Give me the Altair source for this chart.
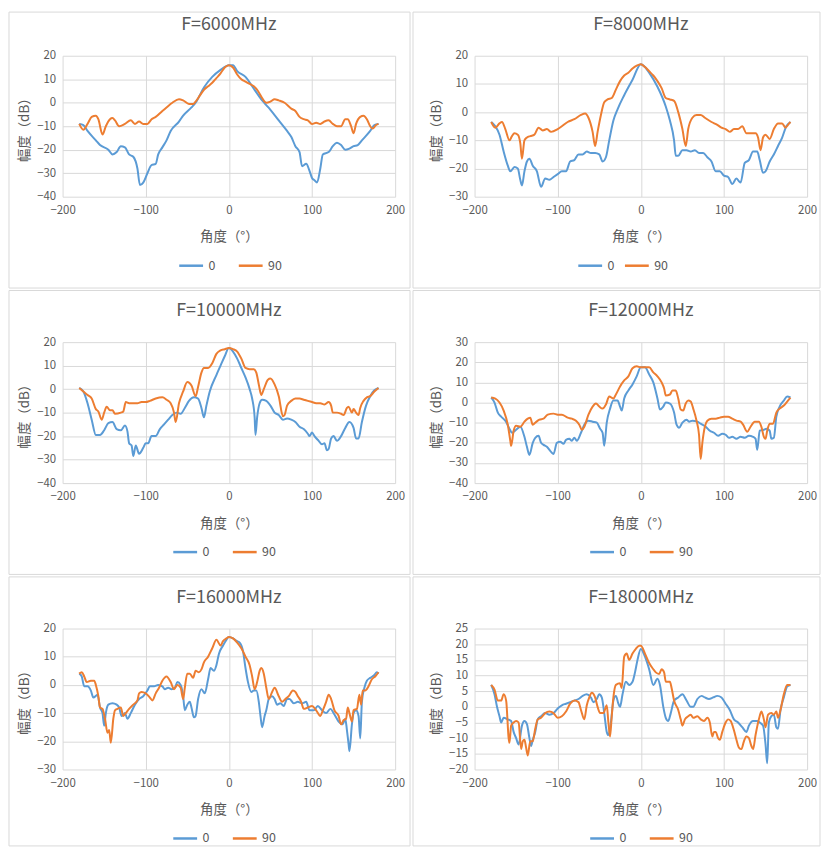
import altair as alt
import pandas as pd

FONT = "Noto Sans CJK SC"
BLUE = "#5B9BD5"
ORANGE = "#ED7D31"
GRID = "#D9D9D9"
TEXT = "#595959"

SERIES = ["0", "90"]
X_TICKS = [-200, -100, 0, 100, 200]
X_TITLE = "角度（°）"
Y_TITLE = "幅度（dB）"

TITLES = ["F=6000MHz", "F=8000MHz", "F=10000MHz", "F=12000MHz", "F=16000MHz", "F=18000MHz"]
Y_MIN = [-40, -30, -40, -40, -30, -20]
Y_MAX = [20, 20, 20, 30, 20, 25]
Y_STEP = [10, 10, 10, 10, 10, 5]

# ---------------- F=6000MHz ----------------
a6000_0 = [-180,-175,-170,-160,-155,-145,-140,-135,-130,-125,-120,-115,-110,-107,-103,-98,-93,-88,-85,-80,-75,-70,-60,-55,-45,-40,-30,-20,-10,0,5,10,20,30,40,45,50,60,70,75,80,85,88,93,97,100,103,106,110,113,120,125,130,135,140,145,150,155,160,170,175,180]
v6000_0 = [-9,-9.5,-12,-16,-18,-20,-22,-21,-18.5,-19,-22,-23,-28,-35,-34,-30,-26.5,-26,-22,-19,-16,-12,-8,-5.5,-2,0,6.5,11,14,16,16,13.5,11,6,1,-1,-3,-7.5,-12,-14.5,-18.5,-21,-27,-26,-29,-32,-33,-34,-28,-22,-21,-18.5,-17,-18,-20,-19.5,-18.5,-18,-16,-12,-9.5,-9]
a6000_90 = [-180,-175,-170,-165,-160,-157,-152,-148,-143,-140,-137,-132,-125,-118,-113,-108,-103,-98,-93,-88,-80,-75,-68,-60,-55,-48,-43,-40,-35,-30,-25,-20,-15,-10,-5,0,5,10,15,20,25,30,35,40,45,50,55,60,67,75,80,85,90,95,100,105,110,115,120,125,130,135,140,143,147,150,153,158,162,166,170,173,177,180]
v6000_90 = [-9,-11.5,-9,-6,-5.5,-7,-13.5,-10,-7,-6.5,-7.5,-10,-9,-7.5,-9,-8,-9,-9,-7,-6,-3.5,-2,0,1.5,1,-0.5,-0.5,0.5,3,5.5,7,8.5,10.5,12.5,15,16,15,12,10,9,8,7,5,2,0,0.5,1.5,1,0,-2.5,-3.5,-6,-7,-7.5,-9,-8.5,-9,-8,-7.5,-9,-10,-10,-7,-7,-10,-13,-9,-6,-5.5,-7,-10,-11,-9.5,-9]

# ---------------- F=8000MHz ----------------
a8000_0 = [-180,-175,-170,-165,-160,-157,-152,-148,-145,-143,-140,-137,-134,-130,-125,-120,-115,-110,-105,-100,-95,-90,-85,-80,-75,-70,-65,-60,-55,-50,-46,-42,-38,-33,-28,-20,-10,0,5,10,20,30,35,40,42,45,50,55,60,65,70,75,80,85,90,95,100,105,110,115,118,120,125,130,135,140,143,147,150,155,160,165,170,175,180]
v8000_0 = [-3.5,-5,-8,-14,-19,-21,-19.5,-20,-24,-26,-21,-17.5,-16.5,-19,-21,-26.5,-23.5,-24,-23,-22,-21,-21,-17.5,-17,-15,-15,-14,-14.5,-14.5,-15,-17.5,-16,-10,-3,1,6,11.5,17,16,14,9,2,-3,-10,-15.5,-15.5,-13.5,-13.5,-14,-13.5,-14.5,-14.5,-16,-17.5,-21,-21,-22.5,-23,-25.5,-23.5,-24.5,-25,-18,-17,-14,-14,-17,-21.5,-21,-17.5,-15,-12,-9,-5,-3.5]
a8000_90 = [-180,-175,-170,-167,-163,-158,-155,-152,-148,-145,-143,-140,-137,-133,-128,-123,-118,-113,-108,-100,-95,-88,-80,-72,-67,-63,-58,-55,-52,-48,-44,-40,-35,-30,-25,-20,-15,-10,-5,0,5,10,15,20,25,30,35,40,45,50,54,57,62,67,72,77,85,92,97,102,107,112,117,122,127,133,138,141,144,147,150,155,160,165,170,174,177,180]
v8000_90 = [-3.5,-5.5,-4,-3.5,-6,-10,-8.5,-7.5,-8,-11,-16.5,-10,-9,-8.5,-8,-5.5,-6.5,-6,-7,-6,-5,-3.5,-2.5,-1,-0.5,-2,-7,-12,-7,-1,3.5,4.5,5,8,11,13,14,15.5,16.5,17,16,14.5,13,11,8.5,5,4.5,4,0,-6,-12,-6,-2,-1,-1,-2,-3.5,-4.5,-5.5,-6,-7,-6,-6,-5,-7.5,-7.5,-7.5,-9,-13.5,-9,-8,-9.5,-6,-4,-4,-5.5,-4.5,-3.5]

# ---------------- F=10000MHz ----------------
a10000_0 = [-180,-175,-170,-165,-160,-155,-150,-145,-140,-135,-130,-125,-122,-120,-117,-115,-112,-108,-103,-100,-97,-93,-88,-83,-78,-73,-68,-63,-58,-53,-48,-42,-37,-33,-30,-27,-23,-15,-10,-5,0,5,10,15,20,25,28,31,32,34,37,40,45,50,55,60,65,70,75,80,85,90,95,97,100,103,108,112,115,118,120,123,126,130,135,140,145,150,153,156,160,165,170,175,180]
v10000_0 = [0.5,-1,-6,-13,-19.5,-19.5,-17.5,-14.5,-14,-17,-17.5,-15.5,-18,-23,-24,-28.5,-24,-27.5,-25,-23,-23,-20,-20,-17,-15,-13,-11,-10,-10.5,-8,-5,-3.5,-4,-8,-12,-7,-1,6,10,14,17.5,16,13,9,5,0,-4,-12,-19.5,-12,-6,-4.5,-5,-7,-10,-11,-13,-12.5,-13,-14,-16,-17,-19,-20,-18.5,-20,-22,-23.5,-23,-26,-25.5,-21,-20,-22,-20,-16.5,-14,-16.5,-21,-21,-14,-7,-3,-0.5,0.5]
a10000_90 = [-180,-175,-170,-165,-160,-157,-153,-150,-147,-143,-140,-137,-130,-127,-124,-120,-115,-110,-105,-100,-95,-88,-80,-75,-70,-66,-64,-60,-55,-50,-45,-40,-37,-33,-30,-25,-20,-15,-10,-5,0,5,10,15,20,25,30,33,36,39,42,47,50,55,60,65,67,70,75,80,85,90,95,100,105,110,115,120,123,125,130,135,138,142,144,148,150,153,156,158,162,166,170,175,180]
v10000_90 = [0.5,-1,-2.5,-4,-8.5,-9.5,-13,-10,-7.5,-9,-9,-10.5,-10,-9.5,-5.5,-6,-6,-6,-5.5,-5.5,-5,-4,-3.5,-4.5,-6,-10,-14,-6,-1,3,1.5,-3,1,7,9,9,11,15,16.5,17,17.5,17,16,13,9,8.5,8.5,7,2,-2.5,0,4,4.5,2,-3,-11.5,-11,-7,-5,-4,-4,-4.5,-5,-5.5,-6,-6,-6.5,-5.5,-7,-10,-10,-10.5,-11,-8,-7.5,-10,-8.5,-10,-11,-8,-5,-3.5,-3,-1,0.5]

# ---------------- F=12000MHz ----------------
a12000_0 = [-180,-176,-172,-168,-163,-158,-155,-150,-145,-140,-137,-134,-130,-127,-123,-120,-117,-113,-108,-105,-101,-97,-93,-90,-86,-83,-80,-77,-72,-68,-63,-58,-53,-49,-46,-44,-41,-37,-33,-28,-25,-23,-20,-15,-10,-5,0,5,10,15,20,23,27,30,35,40,43,46,50,55,58,62,68,72,78,83,88,93,98,102,106,110,115,120,125,130,135,138,140,143,148,151,155,157,160,163,167,172,176,180]
v12000_0 = [2.5,0,-5,-7,-9,-13,-15,-13.5,-12,-17,-22,-26,-20,-17.5,-16.5,-20,-21,-22,-24.5,-25.5,-20,-19.5,-20.5,-18.5,-18,-19,-17.5,-19,-15,-11,-9,-9.5,-10,-13,-15,-21.5,-10,-3,1,1,-2,-4,2,6,9,13,17.5,17.5,14,10,2,-3.5,-2,0,-0.5,-5,-11,-12.5,-10,-8.5,-9.5,-9,-9.5,-10.5,-12,-14,-15,-16.5,-15.5,-16,-17.5,-17,-18,-17,-17.5,-16.5,-17,-18,-23.5,-14,-13.5,-13,-14,-18,-17.5,-7,-2,1,3,2.5]
a12000_90 = [-180,-175,-170,-165,-160,-157,-156,-153,-150,-145,-140,-136,-133,-130,-127,-122,-117,-112,-105,-100,-95,-88,-83,-78,-74,-71,-68,-63,-58,-54,-50,-46,-42,-38,-33,-30,-25,-20,-15,-10,-5,0,5,10,15,20,25,28,30,35,38,42,45,48,51,54,57,60,63,67,70,72,74,77,80,85,90,95,100,105,110,115,120,123,128,132,137,142,145,148,150,152,155,159,163,167,172,177,180]
v12000_90 = [2.5,2,0,-4,-11,-19,-21.5,-14,-11.5,-12,-9.5,-8,-7.5,-11,-10,-8.5,-8,-6,-5.5,-6,-6,-7.5,-8,-9,-11,-13.5,-12,-6,-2,-0.5,-2,-3,-1,3,2,4,8,11,13,17,18,17.5,17.5,17.5,15,13,10,7,3.5,4,6,6,2,-3.5,-4,-0.5,1,0.5,-3,-9,-16,-28,-20,-12,-9,-8,-8,-7.5,-7,-7,-8,-9,-9.5,-11,-14.5,-12,-9.5,-9.5,-12,-17,-18,-14,-10.5,-10.5,-5,-3,-1.5,1,2.5]

# ---------------- F=16000MHz ----------------
a16000_0 = [-180,-177,-174,-170,-166,-163,-158,-155,-152,-150,-148,-145,-140,-135,-132,-129,-125,-122,-118,-113,-108,-103,-98,-95,-90,-85,-80,-77,-73,-69,-65,-62,-58,-55,-53,-50,-47,-45,-42,-40,-37,-33,-29,-25,-22,-18,-15,-12,-7,-3,0,5,10,13,17,20,23,27,30,33,36,38,40,43,45,48,52,55,58,62,66,70,73,78,83,88,93,97,102,107,112,117,122,127,132,137,140,142,144,145,148,150,153,156,158,160,163,166,170,175,178,180]
v16000_0 = [4,3,-0.5,-0.5,-2,-4.5,-3.5,-8,-10,-14.5,-10,-7,-6.5,-7,-8,-11,-10,-12,-10,-7,-5,-4,-2,-0.5,-0.5,0,-0.5,-1.5,-1,-1.5,-1,1,0,-4,-9,-7,-6,-8,-11.5,-11,-5,-1.5,-3,2,6,5,7,11,14,16,17,16.5,15.5,15,12,6,1,-2.5,-2,-2,-6,-11,-15,-11,-9,-5,-4,-5,-7,-6.5,-7.5,-5,-5,-6.5,-6,-6.5,-6,-9,-9,-7.5,-9,-10,-8.5,-10.5,-13,-14,-12,-16,-21,-23.5,-14,-10,-9,-11,-19,-6,-1,1.5,2.5,3.5,4.5,4]
a16000_90 = [-180,-177,-174,-171,-166,-162,-160,-157,-155,-152,-149,-146,-144,-142,-139,-137,-134,-130,-127,-124,-120,-115,-110,-108,-105,-100,-95,-92,-88,-84,-80,-75,-70,-66,-62,-58,-55,-53,-50,-47,-43,-40,-36,-33,-30,-25,-20,-15,-10,-7,-3,0,5,10,15,20,25,28,31,34,37,39,42,45,48,52,55,60,64,68,72,77,80,83,87,90,95,100,105,110,113,117,120,123,127,132,135,138,141,143,145,148,150,154,157,159,161,164,168,172,176,180]
v16000_90 = [4,4.5,3,1,1.5,1.5,0,-4,-8,-8.5,-12,-17,-16,-20.5,-12,-9,-8.5,-8,-11,-10,-8.5,-7,-5.5,-3,-2.5,-3,-4.5,-5.5,-3,-1,1.5,3,1,-1.5,0,-1,-5,-1,4,4,2.5,5,4.5,5.5,8,10,13,16,14,15.5,16.5,17,16.5,15,13,10,7,3,-1.5,1,5,6,4,-1,-5,-2.5,-1,-4,-6,-5,-4,-2,-2.5,-4,-6,-8.5,-8,-7.5,-9,-11,-9,-6,-3.5,-5,-9,-11,-14,-12.5,-12,-8,-10,-13,-9,-8.5,-3.5,-7,-2,-2,-0.5,2,3,4.5]

# ---------------- F=18000MHz ----------------
a18000_0 = [-180,-176,-173,-170,-168,-165,-160,-156,-153,-150,-147,-143,-140,-137,-134,-132,-130,-127,-124,-120,-115,-110,-105,-100,-95,-90,-85,-80,-75,-70,-65,-60,-57,-53,-50,-47,-44,-41,-39,-36,-33,-30,-27,-25,-22,-18,-14,-10,-7,-4,0,5,10,15,20,23,27,30,33,36,40,45,50,55,60,63,68,73,77,82,87,92,97,102,107,112,117,122,127,130,135,140,143,147,150,152,154,157,160,163,165,168,172,176,180]
v18000_0 = [7,4,0,-3,-5,-3.5,-4,-4.5,-8,-10,-12,-6,-4.5,-5.5,-10,-12.5,-10.5,-8,-4,-3,-2,-2.5,-2,-0.5,0.5,1,1.5,2,2.5,3.5,4,3,1.5,2.5,4,3,-2,-8,-9,-5,2,3.5,1,0,4,8,7,8,11,15,18.5,16,12,7,9,7,0,-3.5,-4.5,-2,2,3,4,2,0,0,2.5,3.5,3,2.5,3,3.5,3,1,-1,-4,-5,-6.5,-8,-6,-4.5,-4.5,-5,-6,-12,-18,-5,-3,-2.5,-6.5,-7,-1,3,6.5,7]
a18000_90 = [-180,-176,-172,-168,-165,-162,-159,-158,-156,-153,-150,-147,-144,-142,-140,-138,-136,-133,-130,-127,-124,-120,-115,-110,-105,-100,-95,-90,-85,-80,-75,-72,-68,-65,-62,-59,-55,-52,-49,-45,-41,-39,-37,-35,-33,-30,-25,-23,-20,-17,-14,-10,-6,-2,0,5,10,15,18,22,25,28,30,35,37,40,45,48,50,53,57,60,63,68,72,76,80,83,86,88,90,93,95,98,102,105,108,112,115,118,121,124,127,130,133,135,138,142,145,148,150,153,157,160,163,165,168,172,176,180]
v18000_90 = [7,5.5,2,2,4,2,-10,-11.5,-6,-5,-4.5,-5,-13.5,-11,-10.5,-13,-15.5,-11,-11,-7,-4,-3.5,-2,-1.5,-2,-3.5,-3,-1.5,1,2,1.5,-1,-4,0.5,3,4.5,3,0,-2,-2,0.5,-5,-9.5,-3,3,7,7.5,6,16,17,15,17,18.5,19.5,19.5,17,14,12,11,10.5,12,11,8,8,6,2,-1,-4,-6,-4,-3,-2.5,-3.5,-3,-4,-4.5,-3.5,-5,-9.5,-8,-8,-10,-10.5,-8,-5,-4,-4.5,-7.5,-10.5,-13,-13.5,-11,-9.5,-10,-12.5,-13.5,-9,-4,-1.5,-4,-6.5,-2.5,-2,-2.5,-1.5,-3.5,-1,4,7,7]

DATA = [
    (a6000_0, v6000_0, a6000_90, v6000_90),
    (a8000_0, v8000_0, a8000_90, v8000_90),
    (a10000_0, v10000_0, a10000_90, v10000_90),
    (a12000_0, v12000_0, a12000_90, v12000_90),
    (a16000_0, v16000_0, a16000_90, v16000_90),
    (a18000_0, v18000_0, a18000_90, v18000_90),
]

W, H = 335, 142
LEG_X = [116, 103, 110, 115, 110, 115]
LEG_PAD = [18, 5, 18, 18, 18, 18]


def panel(i):
    a0, v0, a90, v90 = DATA[i]
    row, col = divmod(i, 2)
    df = pd.DataFrame({
        "angle": a0 + a90,
        "value": v0 + v90,
        "series": [SERIES[0]] * len(a0) + [SERIES[1]] * len(a90),
    })
    ymin, ymax, step = Y_MIN[i], Y_MAX[i], Y_STEP[i]
    lines = alt.Chart(df).mark_line(strokeWidth=2, interpolate="monotone").encode(
        x=alt.X("angle:Q", scale=alt.Scale(domain=[-200, 200], nice=False),
                axis=alt.Axis(values=X_TICKS, title=X_TITLE, labelFlush=False)),
        y=alt.Y("value:Q", scale=alt.Scale(domain=[ymin, ymax], nice=False),
                axis=alt.Axis(values=list(range(ymin, ymax + 1, step)), title=Y_TITLE)),
        color=alt.Color("series:N", scale=alt.Scale(domain=SERIES, range=[BLUE, ORANGE]),
                        legend=alt.Legend(orient="none", legendX=LEG_X[i], legendY=198,
                                          direction="horizontal", title=None,
                                          symbolType="stroke", symbolSize=576,
                                          symbolStrokeWidth=2.5, columnPadding=LEG_PAD[i],
                                          labelOffset=4, padding=0)),
    )
    x1 = -54 if col == 0 else -62
    x2 = 350 if col == 0 else 348
    y1 = -44 if row == 0 else -52
    y2 = 234 if row < 2 else 219
    frame = alt.Chart(alt.Data(values=[{"f": 1}])).mark_rect(
        fillOpacity=0, stroke=GRID, strokeWidth=1
    ).encode(x=alt.value(x1), x2=alt.value(x2), y=alt.value(y1), y2=alt.value(y2))
    ttl = alt.Chart(alt.Data(values=[{"t": TITLES[i]}])).mark_text(
        font=FONT, fontSize=18, color=TEXT, align="center", baseline="middle"
    ).encode(text="t:N", x=alt.value(W / 2), y=alt.value(-31))
    return alt.layer(frame, lines, ttl).properties(width=W, height=H)


chart = alt.concat(
    *[panel(i) for i in range(6)],
    columns=2,
    spacing={"row": 146.5, "column": 80},
    bounds="flush",
).resolve_scale(
    color="independent", x="independent", y="independent"
).resolve_legend(
    color="independent"
).properties(
    padding=0, background="white"
).configure_view(
    stroke=None
).configure_axis(
    grid=True, gridColor=GRID, domain=False, ticks=False,
    labelFont=FONT, labelFontSize=11.5, labelColor=TEXT,
    titleFont=FONT, titleFontSize=13.5, titleColor=TEXT, titleFontWeight="normal",
).configure_axisY(
    labelPadding=7, titlePadding=5
).configure_axisX(
    labelPadding=8, titlePadding=14
).configure_legend(
    labelFont=FONT, labelFontSize=12.5, labelColor=TEXT
)

chart.save("out.html", embed_options={"renderer": "svg", "actions": False})
